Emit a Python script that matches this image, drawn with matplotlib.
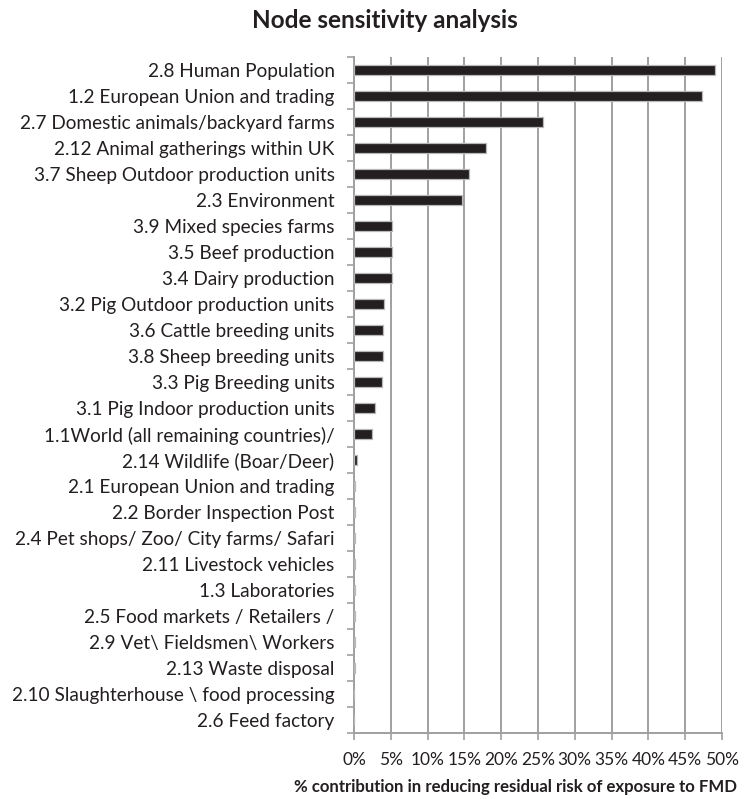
import numpy as np
import matplotlib.pyplot as plt
from matplotlib.ticker import FixedLocator, PercentFormatter

# node labels, top to bottom as in the figure
nodes = [
    "2.8 Human Population",
    "1.2 European Union and trading",
    "2.7 Domestic animals/backyard farms",
    "2.12 Animal gatherings within UK",
    "3.7 Sheep Outdoor production units",
    "2.3 Environment",
    "3.9 Mixed species farms",
    "3.5 Beef production",
    "3.4 Dairy production",
    "3.2 Pig Outdoor production units",
    "3.6 Cattle breeding units",
    "3.8 Sheep breeding units",
    "3.3 Pig Breeding units",
    "3.1 Pig Indoor production units",
    "1.1World (all remaining countries)/",
    "2.14 Wildlife (Boar/Deer)",
    "2.1 European Union and trading",
    "2.2 Border Inspection Post",
    "2.4 Pet shops/ Zoo/ City farms/ Safari",
    "2.11 Livestock vehicles",
    "1.3 Laboratories",
    "2.5 Food markets / Retailers /",
    "2.9 Vet\\ Fieldsmen\\ Workers",
    "2.13 Waste disposal",
    "2.10 Slaughterhouse \\ food processing",
    "2.6 Feed factory",
]
# % contribution in reducing residual risk
contribution = [
    49.0, 47.3, 25.7, 18.0, 15.6, 14.7, 5.2, 5.1, 5.1, 4.1, 3.9, 3.9, 3.8,
    2.85, 2.5, 0.4, 0.2, 0.08, 0.08, 0.08, 0.08, 0.08, 0.08, 0.08, 0.0, 0.0,
]
xticks = [0, 5, 10, 15, 20, 25, 30, 35, 40, 45, 50]

plt.rcParams['font.family'] = ['Lato', 'DejaVu Sans']
dark = "#231f20"
grey = "#a0a0a0"

fig = plt.figure(figsize=(7.44, 7.99), dpi=100)
ax = fig.add_axes([354 / 744, 1 - 733 / 799, (722 - 354) / 744, (733 - 57) / 799])

y = np.arange(len(nodes))
ax.barh(y, contribution, height=0.42, color=dark, edgecolor="#b8b8b8", linewidth=0.9, zorder=3)

ax.set_ylim(len(nodes) - 0.5, -0.5)
ax.set_xlim(0, 50)
ax.set_yticks(y)
ax.set_yticklabels(nodes, fontsize=13.7, color=dark)
ax.yaxis.set_minor_locator(FixedLocator(np.arange(-0.5, len(nodes), 1)))
ax.tick_params(axis="y", which="major", length=0, pad=14)
ax.tick_params(axis="y", which="minor", length=5, color=grey, width=1.2)

ax.set_xticks(xticks)
ax.xaxis.set_major_formatter(PercentFormatter(decimals=0))
ax.tick_params(axis="x", length=5, color=grey, width=1.2, labelsize=12.5, pad=9, labelcolor=dark)

ax.grid(axis="x", color=grey, linewidth=1.4, zorder=0)
for s in ["top", "right"]:
    ax.spines[s].set_visible(False)
for s in ["left", "bottom"]:
    ax.spines[s].set_color(grey)
    ax.spines[s].set_linewidth(1.4)

fig.text(385 / 744, 1 - 20 / 799, "Node sensitivity analysis", ha="center", va="center",
         fontsize=17.5, fontweight="bold", color=dark)
fig.text(516 / 744, 1 - 787 / 799, "% contribution in reducing residual risk of exposure to FMD",
         ha="center", va="center", fontsize=12.1, fontweight="bold", color=dark)

fig.savefig("out.png", dpi=100)
